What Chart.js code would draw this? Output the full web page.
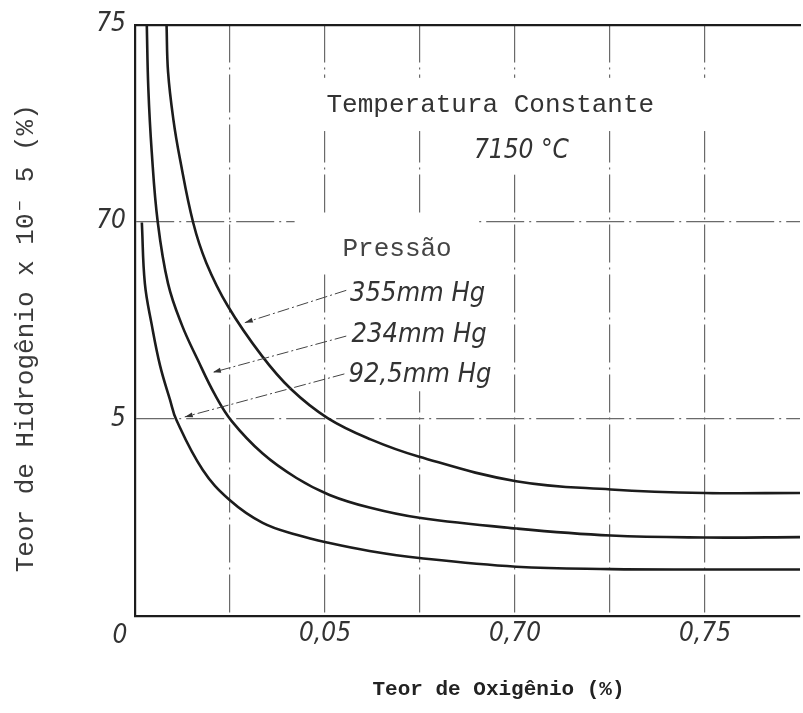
<!DOCTYPE html>
<html>
<head>
<meta charset="utf-8">
<script src="https://cdn.jsdelivr.net/npm/chart.js@4.4.0/dist/chart.umd.min.js"></script>
<style>
  html, body { margin: 0; padding: 0; background: #fff; overflow: hidden; }
  canvas { display: block; }
</style>
</head>
<body>
<canvas id="chart" width="803" height="713"></canvas>
<script>
// curvas (teor de oxigenio %, teor de hidrogenio)
const o2_355 = [0.0083, 0.0087, 0.0101, 0.0118, 0.0153, 0.0188, 0.0245, 0.0333, 0.0411, 0.0507, 0.0620, 0.0748, 0.1003, 0.1252, 0.1499, 0.1753];
const h2_355 = [15.0, 13.8, 12.59, 11.61, 9.98, 8.95, 7.85, 6.61, 5.75, 5.02, 4.48, 4.04, 3.42, 3.21, 3.12, 3.12];

const o2_234 = [0.0031, 0.0035, 0.0044, 0.0060, 0.0087, 0.0123, 0.0166, 0.0210, 0.0254, 0.0336, 0.0425, 0.0512, 0.0617, 0.0748, 0.1003, 0.1252, 0.1499, 0.1753];
const h2_234 = [15.0, 13.4, 11.78, 9.98, 8.43, 7.39, 6.48, 5.62, 4.95, 4.12, 3.50, 3.07, 2.75, 2.49, 2.22, 2.04, 1.99, 2.0];

const o2_925 = [0.0018, 0.0026, 0.0044, 0.0066, 0.0092, 0.0109, 0.0178, 0.0249, 0.0336, 0.0425, 0.0512, 0.0617, 0.0748, 0.1003, 0.1252, 0.1499, 0.1753];
const h2_925 = [9.98, 8.43, 7.39, 6.35, 5.49, 4.97, 3.71, 2.94, 2.36, 2.06, 1.85, 1.65, 1.47, 1.25, 1.19, 1.18, 1.18];

const pressures = ['355mm Hg', '234mm Hg', '92,5mm Hg'];

// rotulos dos eixos como aparecem na figura
const xTickValues = [0.05, 0.10, 0.15];
const xTickLabels = ['0,05', '0,70', '0,75'];
const yTickValues = [5, 10, 15];
const yTickLabels = ['5', '70', '75'];

const pairs = (xs, ys) => xs.map((v, i) => ({ x: v, y: ys[i] }));
const near = (a, b) => Math.abs(a - b) < 1e-6;

const MONO = "'Liberation Mono', 'DejaVu Sans Mono', monospace";
const COND = "'Liberation Sans Narrow', 'DejaVu Sans Condensed', sans-serif";
const INK = '#1c1c1c';

// textos e setas, posicionados em unidades do grafico
const notes = [
  { text: 'Temperatura Constante', x: 0.0504, y: 12.95, font: '26px ' + MONO, color: '#333' },
  { text: '7150 °C', x: 0.0892, y: 11.78, font: 'italic 26px ' + COND, color: '#333' },
  { text: 'Pressão', x: 0.0546, y: 9.3, font: '26px ' + MONO, color: '#444' },
  { text: pressures[0], x: 0.0566, y: 8.16, font: 'italic 27px ' + COND, color: '#333' },
  { text: pressures[1], x: 0.0570, y: 7.12, font: 'italic 27px ' + COND, color: '#333' },
  { text: pressures[2], x: 0.0562, y: 6.11, font: 'italic 27px ' + COND, color: '#333' }
];
const leaders = [
  { from: [0.0556, 8.26], to: [0.0289, 7.44] },
  { from: [0.0556, 7.10], to: [0.0205, 6.18] },
  { from: [0.0551, 6.14], to: [0.0131, 5.05] }
];
// partes da grade interrompidas pelos textos
const gaps = [
  { x0: 0.046, x1: 0.152, y0: 12.3, y1: 13.65 },
  { x0: 0.085, x1: 0.115, y0: 11.2, y1: 12.3 },
  { x0: 0.042, x1: 0.0905, y0: 8.7, y1: 10.2 },
  { x0: 0.0555, x1: 0.092, y0: 5.7, y1: 8.7 }
];

const overlay = {
  id: 'overlay',
  beforeDatasetsDraw(chart) {
    const { ctx, scales: { x, y } } = chart;
    ctx.save();
    ctx.fillStyle = '#fff';
    gaps.forEach(g => {
      const l = x.getPixelForValue(g.x0), r = x.getPixelForValue(g.x1);
      const t = y.getPixelForValue(g.y1), b = y.getPixelForValue(g.y0);
      ctx.fillRect(l, t, r - l, b - t);
    });
    ctx.restore();
  },
  afterDatasetsDraw(chart) {
    const { ctx, scales: { x, y } } = chart;
    ctx.save();
    ctx.textAlign = 'left';
    ctx.textBaseline = 'middle';
    notes.forEach(n => {
      ctx.font = n.font;
      ctx.fillStyle = n.color;
      ctx.fillText(n.text, x.getPixelForValue(n.x), y.getPixelForValue(n.y));
    });

    ctx.strokeStyle = '#444';
    ctx.fillStyle = '#333';
    ctx.lineWidth = 1;
    leaders.forEach(a => {
      const x0 = x.getPixelForValue(a.from[0]), y0 = y.getPixelForValue(a.from[1]);
      const x1 = x.getPixelForValue(a.to[0]), y1 = y.getPixelForValue(a.to[1]);
      ctx.setLineDash([12, 3, 2, 3]);
      ctx.beginPath();
      ctx.moveTo(x0, y0);
      ctx.lineTo(x1, y1);
      ctx.stroke();
      ctx.setLineDash([]);
      const ang = Math.atan2(y1 - y0, x1 - x0);
      ctx.beginPath();
      ctx.moveTo(x1, y1);
      ctx.lineTo(x1 - 8 * Math.cos(ang) + 2.5 * Math.sin(ang), y1 - 8 * Math.sin(ang) - 2.5 * Math.cos(ang));
      ctx.lineTo(x1 - 8 * Math.cos(ang) - 2.5 * Math.sin(ang), y1 - 8 * Math.sin(ang) + 2.5 * Math.cos(ang));
      ctx.closePath();
      ctx.fill();
    });
    ctx.restore();
  },
  afterDraw(chart) {
    const { ctx, chartArea: a } = chart;
    ctx.save();
    ctx.textAlign = 'center';
    ctx.textBaseline = 'middle';
    ctx.fillStyle = '#333';
    ctx.font = 'italic 26px ' + COND;
    ctx.fillText('0', a.left - 15, a.bottom + 20);

    ctx.fillStyle = '#222';
    ctx.font = 'bold 21px ' + MONO;
    ctx.fillText('Teor de Oxigênio (%)', (a.left + a.right) / 2 + 31, a.bottom + 74);

    ctx.translate(a.left - 109, (a.top + a.bottom) / 2 + 18);
    ctx.rotate(-Math.PI / 2);
    ctx.fillStyle = '#3a3a3a';
    ctx.font = '26px ' + MONO;
    ctx.fillText('Teor de Hidrogênio x 10⁻ 5 (%)', 0, 0);
    ctx.restore();
  }
};

const curve = (data) => ({
  data,
  borderColor: INK,
  borderWidth: 2.6,
  pointRadius: 0,
  fill: false,
  tension: 0.4
});

const gridDash = [38, 5, 2, 5];

new Chart(document.getElementById('chart'), {
  type: 'line',
  data: {
    datasets: [
      curve(pairs(o2_355, h2_355)),
      curve(pairs(o2_234, h2_234)),
      curve(pairs(o2_925, h2_925))
    ]
  },
  options: {
    responsive: false,
    animation: false,
    layout: { padding: { top: 21, right: 0, left: 0, bottom: 0 } },
    plugins: { legend: { display: false }, tooltip: { enabled: false } },
    scales: {
      x: {
        type: 'linear',
        min: 0,
        max: 0.175,
        afterFit: s => { s.height = 97; },
        afterBuildTicks: s => {
          s.ticks = [0, 0.025, 0.05, 0.075, 0.1, 0.125, 0.15, 0.175].map(v => ({ value: v }));
        },
        ticks: {
          autoSkip: false,
          maxRotation: 0,
          padding: 3,
          color: '#333',
          font: { family: COND, size: 26, style: 'italic' },
          callback: v => {
            const i = xTickValues.findIndex(t => near(t, v));
            return i < 0 ? '' : xTickLabels[i];
          }
        },
        grid: {
          drawTicks: false,
          lineWidth: 1.2,
          color: c => (c.tick && (near(c.tick.value, 0) || near(c.tick.value, 0.175))) ? 'rgba(0,0,0,0)' : '#6a6a6a'
        },
        border: { display: true, color: INK, width: 2.2, dash: gridDash }
      },
      xTop: {
        type: 'linear',
        position: 'top',
        min: 0,
        max: 0.175,
        afterFit: s => { s.height = 0; },
        ticks: { display: false },
        grid: { display: false, drawTicks: false },
        border: { display: true, color: INK, width: 2.2 }
      },
      y: {
        type: 'linear',
        min: 0,
        max: 15,
        afterFit: s => { s.width = 135; },
        afterBuildTicks: s => {
          s.ticks = [0, 5, 10, 15].map(v => ({ value: v }));
        },
        ticks: {
          padding: 9,
          color: '#333',
          font: { family: COND, size: 26, style: 'italic' },
          callback: v => {
            const i = yTickValues.findIndex(t => near(t, v));
            return i < 0 ? '' : yTickLabels[i];
          }
        },
        grid: {
          drawTicks: false,
          lineWidth: 1.2,
          color: c => (c.tick && (near(c.tick.value, 0) || near(c.tick.value, 15))) ? 'rgba(0,0,0,0)' : '#6a6a6a'
        },
        border: { display: true, color: INK, width: 2.2, dash: gridDash }
      }
    }
  },
  plugins: [overlay]
});
</script>
</body>
</html>
